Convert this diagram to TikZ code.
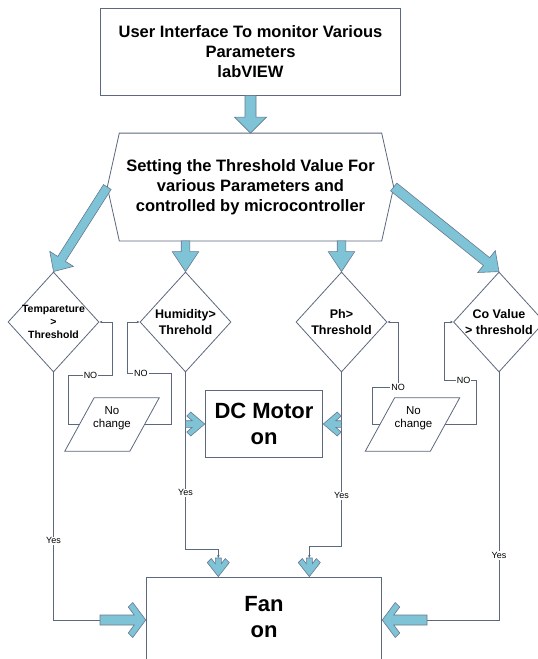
\documentclass[tikz,border=0pt]{standalone}
\usepackage{fontspec}
\setmainfont{Liberation Sans}
\usetikzlibrary{shapes.geometric,arrows.meta,calc}
\definecolor{edge}{RGB}{92,104,125}
\definecolor{arrowfill}{RGB}{127,195,214}
\definecolor{arrowline}{RGB}{105,120,142}

\newcommand{\tarrow}[5]{%
  \path[blockarrow] let \p1=(#1), \p2=(#2),
      \n1={atan2(\y2-\y1,\x2-\x1)}, \n2={veclen(\x2-\x1,\y2-\y1)} in
    [shift={(\p1)}, rotate=\n1]
    (0pt,-#3pt) -- ({\n2-#5pt},-#3pt) -- ({\n2-#5pt},-#4pt) -- (\n2,0pt)
    -- ({\n2-#5pt},#4pt) -- ({\n2-#5pt},#3pt) -- (0pt,#3pt) -- cycle;}
\newcommand{\carrow}[6]{%
  \path[blockarrow] let \p1=(#1), \p2=(#2),
      \n1={atan2(\y2-\y1,\x2-\x1)}, \n2={veclen(\x2-\x1,\y2-\y1)},
      \n3={\n2-#5pt-#6pt+(#4-#6-#3)*#5/#4*1pt} in
    [shift={(\p1)}, rotate=\n1]
    (0pt,-#3pt) -- (\n3,-#3pt) -- ({\n2-#5pt-#6pt},{-#4pt+#6pt}) -- ({\n2-#5pt},-#4pt)
    -- (\n2,0pt) -- ({\n2-#5pt},#4pt) -- ({\n2-#5pt-#6pt},{#4pt-#6pt})
    -- (\n3,#3pt) -- (0pt,#3pt) -- cycle;}
\newcommand{\slantbox}[1]{%
  \draw[line] ($(#1.north west)+(14.65,0)$) -- ($(#1.north east)+(14.65,0)$)
    -- ($(#1.south east)+(-14.65,0)$) -- ($(#1.south west)+(-14.65,0)$) -- cycle;}

\begin{document}
\begin{tikzpicture}[x=1pt,y=-1pt,
  box/.style={draw=edge, line width=0.8pt, fill=white, align=center, inner sep=0pt},
  cond/.style={diamond, draw=edge, line width=0.8pt, minimum width=91pt, minimum height=100pt, inner sep=0pt},
  io/.style={rectangle, minimum width=64.7pt, minimum height=53pt, inner sep=0pt},
  txt/.style={align=center, inner sep=0pt},
  huge/.style={font=\fontsize{22}{26}\selectfont\bfseries},
  head/.style={font=\fontsize{16.5}{20}\selectfont\bfseries},
  cnd/.style={font=\fontsize{12.5}{16.5}\selectfont\bfseries},
  line/.style={draw=edge, line width=0.8pt},
  tip/.style={-{Stealth[length=3pt,width=2.5pt]}},
  lbl/.style={fill=white, inner sep=1pt, font=\fontsize{9}{10}\selectfont},
  blockarrow/.style={fill=arrowfill, draw=arrowline, line width=0.6pt, line join=miter}]
    \useasboundingbox (0,0) rectangle (538,659);
    \clip (0,0) rectangle (538,659);
    \fill[white] (0,0) rectangle (538,659);

    \draw (250.5,51.7) node[box, head, minimum width=300pt, minimum height=87pt] (ui)
          {User Interface To monitor Various\\Parameters\\labVIEW};
    \draw (250.5,187) node[txt, head, minimum width=262pt, minimum height=107.4pt] (hex)
          {Setting the Threshold Value For\\various Parameters and\\controlled by microcontroller};
    \draw[line] (hex.north west) -- (hex.north east) -- ($(hex.east)+(12,0)$) coordinate (hexr)
          -- (hex.south east) -- (hex.south west) -- ($(hex.west)+(-12,0)$) coordinate (hexl) -- cycle;

    \draw (53.5,322) node[cond] (d1) {};
    \draw (185.5,322) node[cond] (d2) {};
    \draw (341.5,322) node[cond] (d3) {};
    \draw (499,322) node[cond] (d4) {};
    \node[txt, font=\fontsize{10.5}{13.3}\selectfont\bfseries] (t1) at (d1) {Tempareture\\>\\Threshold};
    \node[txt, cnd] (t2) at (d2) {Humidity>\\Threhold};
    \node[txt, cnd] (t3) at (d3) {Ph>\\Threshold};
    \node[txt, cnd] (t4) at (d4) {Co Value\\> threshold};

    \draw (112,424.5) node[io] (nc1) {};
    \draw (412.5,424.5) node[io] (nc2) {};
    \slantbox{nc1}
    \slantbox{nc2}
    \node[txt, font=\fontsize{11.5}{13}\selectfont] (nc1t) at (112,418) {No\\change};
    \node[txt, font=\fontsize{11.5}{13}\selectfont] (nc2t) at (413.5,418) {No\\change};

    \draw (264,424) node[box, huge, minimum width=117.7pt, minimum height=66.3pt] (dc) {DC Motor\\on};
    \draw (264,627) node[box, minimum width=235.7pt, minimum height=100pt] (fan) {};
    \node[txt, huge] (fant) at (264,617) {Fan\\on};

    \coordinate (ftl) at (100,620);
    \coordinate (ftr) at (427,620);
    \coordinate (fdl) at (218.3,558);
    \coordinate (fdr) at (309.3,558);

    \draw[line, tip] (nc1.west) -| (68.3,375) -| node[lbl, pos=0.25] {NO} (112.7,322) -- (d1.east);
    \draw[line, tip] (nc1.east) -| (171.7,373.3) -| node[lbl, pos=0.35] {NO} (127.7,322) -- (d2.west);
    \draw[line, tip] (nc2.west) -| (372,387.3) -| node[lbl, pos=0.5] {NO} (398,322) -- (d3.east);
    \draw[line, tip] (nc2.east) -| (476.3,380.7) -| node[lbl, pos=0.2] {NO} (444.7,322) -- (d4.west);

    \draw[line] (d1.south) |- node[lbl, pos=0.34] {Yes} (ftl);
    \draw[line] (d4.south) |- node[lbl, pos=0.37] {Yes} (ftr);
    \draw[line, tip] (d2.south) |- node[lbl, pos=0.34] {Yes} (218.3,549.3) -- (fdl);
    \draw[line, tip] (d3.south) |- node[lbl, pos=0.355] {Yes} (309.3,546) -- (fdr);

    \tarrow{ui.south}{hex.north}{5.5}{16}{16}
    \tarrow{hexl}{d1.north}{4.5}{14}{15}
    \tarrow{hex.south -| d2}{d2.north}{4.3}{13.3}{20}
    \tarrow{hex.south -| d3}{d3.north}{4.3}{13.3}{20}
    \tarrow{hexr}{d4.north}{5}{14}{16}

    \carrow{d2 |- dc.west}{dc.west}{3.3}{12}{14}{4}
    \carrow{d3 |- dc.east}{dc.east}{3.3}{12}{14}{4}
    \carrow{ftl}{fan.west |- ftl}{5}{17.5}{13}{4.5}
    \carrow{ftr}{fan.east |- ftr}{5}{17.5}{13}{4.5}
    \carrow{fdl}{fdl |- fan.north}{3}{11}{14}{4}
    \carrow{fdr}{fdr |- fan.north}{3}{11}{14}{4}
\end{tikzpicture}
\end{document}
